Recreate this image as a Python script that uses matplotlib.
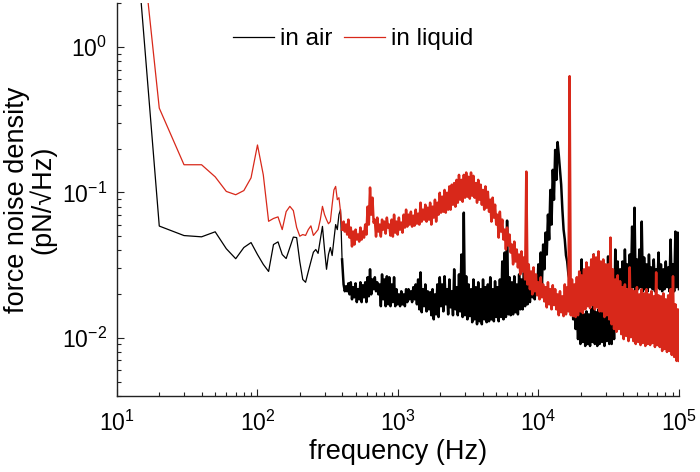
import numpy as np
import matplotlib
matplotlib.use('Agg')
import matplotlib.pyplot as plt

plt.rcParams['font.family'] = ['Liberation Sans', 'DejaVu Sans']
plt.rcParams['mathtext.fontset'] = 'custom'
plt.rcParams['mathtext.rm'] = 'Liberation Sans'
plt.rcParams['mathtext.it'] = 'Liberation Sans:italic'
plt.rcParams['mathtext.default'] = 'regular'

# ---- data -------------------------------------------------------------
# low-frequency bins, 10 Hz .. 400 Hz (10 Hz resolution)
freq_low = np.arange(10, 410, 10)
air_low = [230, 0.0587, 0.0505, 0.0495, 0.0536, 0.0410, 0.0350, 0.0418, 0.0452, 0.0374,
           0.0320, 0.0286, 0.0438, 0.0457, 0.0374, 0.0351, 0.0418, 0.0493, 0.0489, 0.0335,
           0.0252, 0.0241, 0.0286, 0.0335, 0.0388, 0.0405, 0.0381, 0.0474, 0.0584, 0.0405,
           0.0296, 0.0374, 0.0418, 0.0368, 0.0474, 0.0601, 0.0555, 0.0704, 0.0761, 0.0346]
liquid_low = [215, 0.380, 0.155, 0.155, 0.128, 0.1016, 0.0964, 0.103, 0.126, 0.212,
              0.132, 0.0633, 0.0662, 0.0679, 0.0555, 0.0738, 0.0802, 0.0750, 0.0574, 0.0500,
              0.0513, 0.0506, 0.0555, 0.0589, 0.0506, 0.0530, 0.0555, 0.0650, 0.0802, 0.0704,
              0.0650, 0.0609, 0.0630, 0.0823, 0.104, 0.110, 0.0891, 0.0920, 0.0738, 0.0555]

# high-frequency part (410 Hz .. 100 kHz): successive upper / lower values of the noisy trace
air_up = [0.0233, 0.0226, 0.0237, 0.0241, 0.0223, 0.0237, 0.0216, 0.0241, 0.0230, 0.0241,
          0.0261, 0.0296, 0.0252, 0.0261, 0.0241, 0.0233, 0.0273, 0.0252, 0.0265, 0.0261,
          0.0233, 0.0261, 0.0216, 0.0199, 0.0209, 0.0199, 0.0216, 0.0216, 0.0209, 0.0223,
          0.0233, 0.0252, 0.0282, 0.0216, 0.0233, 0.0209, 0.0206, 0.0216, 0.0199, 0.0233,
          0.0261, 0.0233, 0.0265, 0.0216, 0.0252, 0.0209, 0.0296, 0.0223, 0.0273, 0.0374,
          0.0726, 0.0265, 0.0233, 0.0216, 0.0252, 0.0223, 0.0241, 0.0216, 0.0252, 0.0223,
          0.0233, 0.0261, 0.0216, 0.0245, 0.0223, 0.0252, 0.0335, 0.0386, 0.0640, 0.0261,
          0.0241, 0.0265, 0.0233, 0.0273, 0.0252, 0.0282, 0.0261, 0.0273, 0.0265, 0.0286,
          0.0265, 0.0320, 0.0386, 0.0438, 0.0529, 0.0703, 0.104, 0.143, 0.196, 0.222,
          0.143, 0.0761, 0.0474, 0.0335, 0.0252, 0.0184, 0.0170, 0.0150, 0.0157, 0.0346,
          0.0145, 0.0152, 0.0145, 0.0157, 0.0374, 0.0150, 0.0157, 0.0162, 0.0157, 0.0170,
          0.0363, 0.0184, 0.0216, 0.0405, 0.0335, 0.0296, 0.0335, 0.0405, 0.0320, 0.0374,
          0.0582, 0.0785, 0.0346, 0.0405, 0.0630, 0.0357, 0.0320, 0.0374, 0.0305, 0.0346,
          0.0296, 0.0386, 0.0320, 0.0296, 0.0335, 0.0305, 0.0474, 0.0320, 0.0538, 0.0529]
air_dn = [0.0209, 0.0209, 0.0199, 0.0184, 0.0190, 0.0176, 0.0184, 0.0176, 0.0190, 0.0176,
          0.0193, 0.0199, 0.0216, 0.0209, 0.0199, 0.0165, 0.0184, 0.0165, 0.0170, 0.0165,
          0.0176, 0.0165, 0.0170, 0.0165, 0.0170, 0.0165, 0.0176, 0.0184, 0.0176, 0.0184,
          0.0170, 0.0157, 0.0150, 0.0165, 0.0152, 0.0157, 0.0143, 0.0134, 0.0145, 0.0139,
          0.0165, 0.0152, 0.0170, 0.0145, 0.0162, 0.0143, 0.0157, 0.0143, 0.0152, 0.0139,
          0.0143, 0.0134, 0.0141, 0.0128, 0.0134, 0.0124, 0.0130, 0.0124, 0.0134, 0.0128,
          0.0130, 0.0134, 0.0130, 0.0139, 0.0130, 0.0139, 0.0134, 0.0139, 0.0145, 0.0143,
          0.0145, 0.0150, 0.0145, 0.0157, 0.0157, 0.0165, 0.0170, 0.0176, 0.0190, 0.0184,
          0.0199, 0.0216, 0.0233, 0.0296, 0.0374, 0.0474, 0.0601, 0.0891, 0.122, 0.181,
          0.113, 0.0555, 0.0369, 0.0273, 0.0184, 0.0134, 0.0115, 0.0098, 0.00907, 0.00936,
          0.00879, 0.00907, 0.00879, 0.00936, 0.00907, 0.00879, 0.00907, 0.00936, 0.00879, 0.00950,
          0.00907, 0.00907, 0.0098, 0.0115, 0.0145, 0.0216, 0.0209, 0.0223, 0.0209, 0.0216,
          0.0223, 0.0209, 0.0216, 0.0223, 0.0209, 0.0216, 0.0209, 0.0223, 0.0216, 0.0209,
          0.0223, 0.0216, 0.0209, 0.0216, 0.0223, 0.0209, 0.0216, 0.0209, 0.0223, 0.0216]
liquid_up = [0.0630, 0.0601, 0.0650, 0.0573, 0.0538, 0.0555, 0.0513, 0.0573, 0.0538, 0.0601,
             0.0798, 0.108, 0.0920, 0.0650, 0.0671, 0.0601, 0.0650, 0.0630, 0.0671, 0.0601,
             0.0650, 0.0703, 0.0630, 0.0671, 0.0620, 0.0703, 0.0761, 0.0703, 0.0737, 0.0692,
             0.0761, 0.0714, 0.0850, 0.0761, 0.0823, 0.0785, 0.0850, 0.0798, 0.0891, 0.0850,
             0.0994, 0.0935, 0.104, 0.0994, 0.110, 0.113, 0.116, 0.122, 0.132, 0.122,
             0.132, 0.137, 0.128, 0.137, 0.130, 0.116, 0.122, 0.113, 0.104, 0.110,
             0.101, 0.0891, 0.0920, 0.0823, 0.0703, 0.0737, 0.0650, 0.0555, 0.0573, 0.0513,
             0.0438, 0.0459, 0.0405, 0.0374, 0.0393, 0.0357, 0.139, 0.0320, 0.0286, 0.0305,
             0.0273, 0.0241, 0.0261, 0.0233, 0.0223, 0.0241, 0.0216, 0.0230, 0.0216, 0.0199,
             0.0209, 0.0193, 0.0233, 0.0223, 0.630, 0.0252, 0.0233, 0.0261, 0.0286, 0.0269,
             0.0296, 0.0330, 0.0305, 0.0346, 0.0374, 0.0357, 0.0393, 0.0335, 0.0346, 0.0320,
             0.0320, 0.0489, 0.0296, 0.0252, 0.0269, 0.0245, 0.0223, 0.0233, 0.0216, 0.0305,
             0.0216, 0.0209, 0.0223, 0.0199, 0.0216, 0.0202, 0.0216, 0.0199, 0.0209, 0.0193,
             0.0282, 0.0196, 0.0193, 0.0202, 0.0184, 0.0196, 0.0216, 0.0265, 0.0170, 0.0157]
liquid_dn = [0.0538, 0.0513, 0.0489, 0.0425, 0.0438, 0.0474, 0.0459, 0.0474, 0.0489, 0.0513,
             0.0601, 0.0703, 0.0620, 0.0497, 0.0538, 0.0497, 0.0555, 0.0521, 0.0573, 0.0505,
             0.0497, 0.0529, 0.0513, 0.0555, 0.0529, 0.0573, 0.0582, 0.0601, 0.0582, 0.0591,
             0.0610, 0.0601, 0.0630, 0.0650, 0.0630, 0.0650, 0.0601, 0.0671, 0.0630, 0.0703,
             0.0726, 0.0737, 0.0726, 0.0761, 0.0761, 0.0823, 0.0798, 0.0850, 0.0891, 0.0863,
             0.0920, 0.0935, 0.0906, 0.0949, 0.0920, 0.0850, 0.0891, 0.0823, 0.0761, 0.0785,
             0.0737, 0.0630, 0.0671, 0.0601, 0.0489, 0.0538, 0.0474, 0.0405, 0.0431, 0.0386,
             0.0320, 0.0335, 0.0305, 0.0273, 0.0286, 0.0252, 0.0233, 0.0216, 0.0199, 0.0209,
             0.0196, 0.0184, 0.0190, 0.0178, 0.0162, 0.0170, 0.0157, 0.0168, 0.0157, 0.0143,
             0.0150, 0.0141, 0.0145, 0.0152, 0.0143, 0.0141, 0.0139, 0.0143, 0.0152, 0.0148,
             0.0157, 0.0165, 0.0160, 0.0168, 0.0157, 0.0162, 0.0152, 0.0152, 0.0139, 0.0143,
             0.0134, 0.0124, 0.0115, 0.0110, 0.0115, 0.0106, 0.0098, 0.0103, 0.0095, 0.0101,
             0.0095, 0.00907, 0.00936, 0.00892, 0.00921, 0.00879, 0.00907, 0.00892, 0.00921, 0.00865,
             0.00892, 0.00865, 0.00812, 0.00838, 0.00799, 0.00812, 0.00763, 0.00739, 0.00694, 0.00694]

AIR_COLOR = 'black'
LIQ_COLOR = '#d8281a'


# ---- assemble series ----------------------------------------------------
def high_part(low_vals, up, dn):
    high_vals = np.column_stack([up, dn]).ravel()
    freq_high = np.geomspace(410, 1e5, len(high_vals))
    # start the dense trace at the last low-frequency bin so the two parts join
    return (np.concatenate([freq_low[-1:], freq_high]),
            np.concatenate([low_vals[-1:], high_vals]))


fa_hi, va_hi = high_part(air_low, air_up, air_dn)
fl_hi, vl_hi = high_part(liquid_low, liquid_up, liquid_dn)

# ---- plot ---------------------------------------------------------------
fig = plt.figure(figsize=(7, 4.72), dpi=100)
ax = fig.add_axes([0.1671, 0.1617, 0.8029, 0.8314])

ax.loglog(freq_low, air_low, color=AIR_COLOR, lw=0.9, label='in air')
ax.loglog(fa_hi, va_hi, color=AIR_COLOR, lw=1.8)
ax.loglog(freq_low, liquid_low, color=LIQ_COLOR, lw=0.9, label='in liquid')
ax.loglog(fl_hi, vl_hi, color=LIQ_COLOR, lw=1.8)

ax.set_xlim(10, 1e5)
ax.set_ylim(0.004, 2)
ax.set_xticks([1e1, 1e2, 1e3, 1e4, 1e5])
ax.set_yticks([1e-2, 1e-1, 1e0])

for s in ('top', 'right'):
    ax.spines[s].set_visible(False)
for s in ('left', 'bottom'):
    ax.spines[s].set_linewidth(1.0)
    ax.spines[s].set_color('#222222')

ax.tick_params(which='both', direction='in', top=False, right=False, colors='#222222')
ax.tick_params(which='major', length=5, width=0.8, labelsize=16.5, labelcolor='black')
ax.tick_params(which='minor', length=3, width=0.8)
ax.tick_params(axis='x', which='major', pad=11)
ax.tick_params(axis='y', which='major', pad=7)

ax.set_xlabel('frequency (Hz)', fontsize=19.5, labelpad=2)
ax.set_ylabel('force noise density\n(pN/\u221aHz)', fontsize=19.5, linespacing=0.95, labelpad=4)

ax.legend(loc='upper left', bbox_to_anchor=(233 / 700, 1 - 28 / 472),
          bbox_transform=fig.transFigure, ncol=2, frameon=False, fontsize=17.5,
          handlelength=1.7, handletextpad=0.25, columnspacing=0.45,
          borderpad=0, borderaxespad=0)

fig.savefig('out.png', dpi=100)
